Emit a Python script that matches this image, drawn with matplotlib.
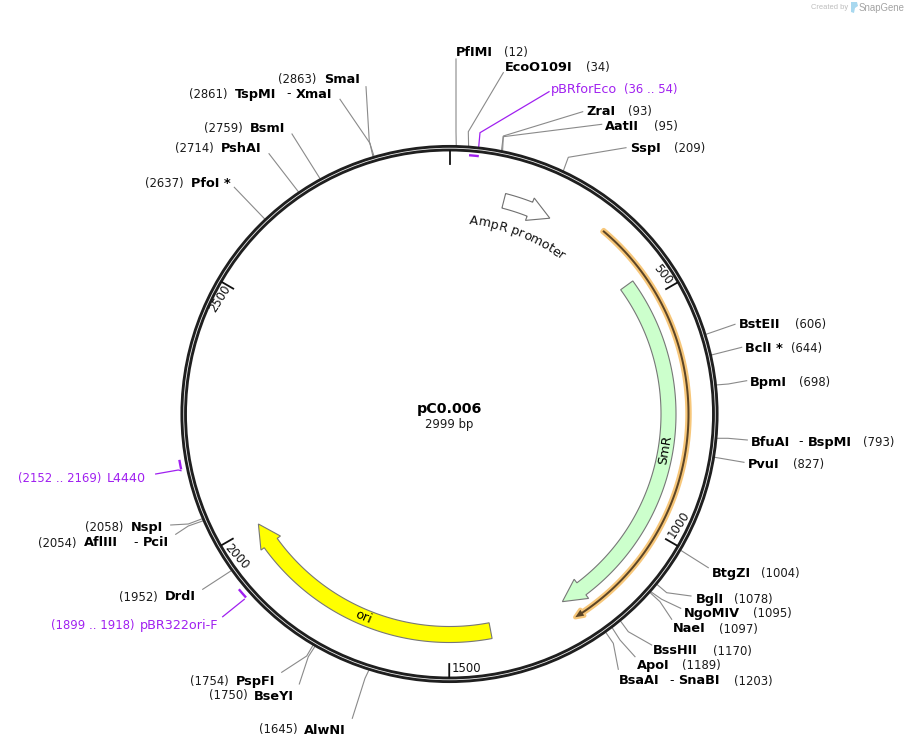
import numpy as np
import matplotlib as mpl
mpl.use('Agg')
import matplotlib.pyplot as plt
from matplotlib import font_manager
from matplotlib.patches import Circle, Polygon

mpl.rcParams['font.family'] = 'DejaVu Sans'

# plasmid
plasmid_name = 'pC0.006'
plasmid_len = 2999
ruler_ticks = [0, 500, 1000, 1500, 2000, 2500]

# restriction sites
site_names = ['PfIMI', 'EcoO109I', 'ZraI', 'AatII', 'SspI', 'BstEII', 'BclI *', 'BpmI',
              'BfuAI', 'PvuI', 'BtgZI', 'BglI', 'NgoMIV', 'NaeI', 'BssHII', 'ApoI',
              'BsaAI', 'AlwNI', 'BseYI', 'PspFI', 'DrdI', 'AflIII', 'NspI', 'PfoI *',
              'PshAI', 'BsmI', 'TspMI', 'SmaI']
site_bp = [12, 34, 93, 95, 209, 606, 644, 698,
           793, 827, 1004, 1078, 1095, 1097, 1170, 1189,
           1203, 1645, 1750, 1754, 1952, 2054, 2058, 2637,
           2714, 2759, 2861, 2863]
# second enzyme on the same label: (dash x, name, name x)
site_partner = {'BfuAI': (798, 'BspMI', 808), 'BsaAI': (669, 'SnaBI', 678),
                'AflIII': (133, 'PciI', 143), 'TspMI': (286, 'XmaI', 296)}

# features, start/end in bp, tip at the end
amp_start, amp_end = 119, 226
smr_start, smr_end = 450, 1241
ori_start, ori_end = 1410, 2000
orf_start, orf_end = 333, 1235

# primers
primer_names = ['pBRforEco', 'L4440', 'pBR322ori-F']
primer_starts = [36, 2152, 1899]
primer_ends = [54, 2169, 1918]

# layout, all in image pixels
cx, cy = 449.5, 414
ring_r = 265.8
name_xy = [(456, 52), (505, 67), (586, 111), (605, 126), (630, 148), (739, 324), (745, 348), (750, 382),
           (751, 442), (748, 464), (712, 573), (696, 599), (684, 614), (673, 629), (653, 651), (637, 666),
           (619, 681), (304, 730), (254, 696), (236, 681), (165, 597), (84, 543), (131, 528), (191, 183),
           (221, 148), (250, 128), (235, 94), (324, 79)]
pos_x = [504, 586, 628, 654, 674, 795, 791, 799,
         863, 793, 761, 734, 753, 719, 713, 682,
         734, 259, 209, 190, 119, 38, 85, 145,
         175, 204, 189, 278]
elbows = [(456, 131.7), (468.3, 131.7), (503.3, 136), (503.3, 136.7), (568.3, 157.3), None, None, (728.3, 384),
          (728, 438.3), None, None, (666.7, 592.7), (661.7, 599.3), (660, 601.7), (628.3, 631.7), (620, 640),
          (613.3, 643.3), (365, 678.3), (308.3, 656.7), (306.7, 656), None, (188.3, 526), (188.3, 524), None,
          None, None, (370, 143.3), (369.3, 141.7)]
leader_ends = [(456, 59), (503.3, 72.7), (582.7, 111.7), (601.7, 124.3), (626, 147.7), (735, 324.3), (741.7, 347.3), (746.7, 380.7),
               (747.3, 440), (744, 462.3), (708.3, 567.7), (691, 596), (680.7, 608.3), (671.7, 619.3), (651.7, 645), (635, 656.7),
               (618.3, 669.3), (352.3, 718.3), (299.3, 684), (281.7, 672.3), (202.7, 589.3), (175.7, 534.3), (170.7, 525), (234.3, 187.3),
               (269, 153.7), (292, 134), (340, 99.3), (366, 86.7)]

PURPLE = '#a020f0'
GREY = '#8a8a8a'
DARK = '#1f1f1f'


def bp_angle(bp):
    return 2 * np.pi * bp / plasmid_len


def polar(bp, r):
    t = bp_angle(bp)
    return cx + r * np.sin(t), cy - r * np.cos(t)


def arrow_shape(start, end, r, half, head_half, head_deg):
    # block arrow following the circle, tip at end
    neck = end - head_deg / 360 * plasmid_len
    arc = np.linspace(start, neck, 120)
    outer = [polar(b, r + half) for b in arc]
    inner = [polar(b, r - half) for b in arc[::-1]]
    head = [polar(neck, r + head_half), polar(end, r), polar(neck, r - head_half)]
    return outer + head + inner


def curved_text(ax, s, mid_bp, r, fontsize, **kw):
    # one glyph at a time along the circle, reading clockwise
    font = font_manager.get_font(font_manager.findfont('DejaVu Sans'))
    font.set_size(fontsize, 100)
    widths = [font.load_char(ord(c)).linearHoriAdvance / 65536 for c in s]
    left = -sum(widths) / 2
    for ch, w in zip(s, widths):
        off = left + w / 2
        left += w
        if ch == ' ':
            continue
        b = mid_bp + np.degrees(off / r) / 360 * plasmid_len
        x, y = polar(b, r)
        ax.text(x, y, ch, fontsize=fontsize, rotation=-np.degrees(bp_angle(b)),
                rotation_mode='anchor', ha='center', va='center', **kw)


fig = plt.figure(figsize=(9.08, 7.48), dpi=100)
ax = fig.add_axes([0, 0, 1, 1])
ax.set_xlim(0, 908)
ax.set_ylim(748, 0)
ax.axis('off')

# backbone
ax.add_patch(Circle((cx, cy), ring_r, fill=False, ec=DARK, lw=6.5 * 0.72, zorder=3))
ax.add_patch(Circle((cx, cy), ring_r, fill=False, ec='#f2f2f2', lw=0.8 * 0.72, zorder=4))

# ruler
for b in ruler_ticks:
    p0, p1 = polar(b, 263), polar(b, 250)
    ax.plot([p0[0], p1[0]], [p0[1], p1[1]], color='#111111', lw=1.3, zorder=5)
ruler_xy = [(663, 274.5), (678.5, 525), (466.5, 668), (237, 556.5), (220, 299)]
ruler_rot = [-52, 57, 0, -48, 58]
for b, xy, rot in zip(ruler_ticks[1:], ruler_xy, ruler_rot):
    ax.text(xy[0], xy[1], str(b), fontsize=8.4, rotation=rot, ha='center', va='center',
            rotation_mode='anchor', color='#111111')

# features
ax.add_patch(Polygon(arrow_shape(amp_start, amp_end, 220, 7.5, 12, 5.7), fc='white', ec='#707070', lw=0.8))
ax.add_patch(Polygon(arrow_shape(smr_start, smr_end, 219, 7.5, 12, 6), fc='#ccffcc', ec='#777777', lw=0.8))
ax.add_patch(Polygon(arrow_shape(ori_start, ori_end, 220.5, 8, 12, 5.9), fc='#ffff00', ec='#777777', lw=0.8))
# orf: pale halo with a thin dark arrow on top
orf_shape = arrow_shape(orf_start, orf_end, 239, 1, 3.5, 2)
ax.add_patch(Polygon(orf_shape, fc='#f7c77a', ec='#f7c77a', lw=3.2, joinstyle='round'))
ax.add_patch(Polygon(orf_shape, fc='#5c4526', ec='none'))
curved_text(ax, 'AmpR promoter', (amp_start + amp_end) / 2 + 2, 194, 9.2, color='#111111')
ax.text(665, 450, 'SmR', fontsize=9.2, rotation=80, ha='center', va='center', rotation_mode='anchor')
ax.text(363.5, 617, 'ori', fontsize=9.2, rotation=-23, ha='center', va='center', rotation_mode='anchor')

# restriction site labels
name_font = dict(fontsize=9.3, fontweight='bold', color='black', va='center')
pos_font = dict(fontsize=8.4, color='#1a1a1a', va='center')
for name, bp, nxy, px, elbow, end in zip(site_names, site_bp, name_xy, pos_x, elbows, leader_ends):
    pts = [polar(bp, 268.5)]
    if elbow is not None:
        pts.append(elbow)
    pts.append(end)
    ax.plot([p[0] for p in pts], [p[1] for p in pts], color=GREY, lw=0.8, zorder=2)
    ax.text(nxy[0], nxy[1], name, **name_font)
    ax.text(px, nxy[1], '(%d)' % bp, **pos_font)
    if name in site_partner:
        dash_x, other, other_x = site_partner[name]
        ax.text(dash_x, nxy[1], '-', fontsize=9, color='black', va='center')
        ax.text(other_x, nxy[1], other, **name_font)

# primers
primer_r = [259.5, 274, 274]
primer_leaders = [[(478.7, 147), (480, 132.7), (549, 91.7)],
                  [(181, 470.7), (178.3, 470), (155.7, 474)],
                  [(244.3, 599.3), (222.7, 616.7)]]
primer_name_xy = [(551, 89), (107, 478), (140, 626)]
primer_pos_x = [624, 18, 51]
for i, name in enumerate(primer_names):
    bps = np.linspace(primer_starts[i], primer_ends[i], 10)
    pts = [polar(b, primer_r[i]) for b in bps]
    ax.plot([p[0] for p in pts], [p[1] for p in pts], color=PURPLE, lw=1.7, zorder=5,
            solid_capstyle='butt')
    lead = primer_leaders[i]
    ax.plot([p[0] for p in lead], [p[1] for p in lead], color=PURPLE, lw=0.9, zorder=2)
    ax.text(primer_name_xy[i][0], primer_name_xy[i][1], name, fontsize=9.2, color=PURPLE, va='center')
    ax.text(primer_pos_x[i], primer_name_xy[i][1], '(%d .. %d)' % (primer_starts[i], primer_ends[i]),
            fontsize=8.4, color=PURPLE, va='center')

# centre title
ax.text(449.5, 409, plasmid_name, fontsize=10.3, fontweight='bold', ha='center', va='center')
ax.text(449.5, 424, '%d bp' % plasmid_len, fontsize=8.4, ha='center', va='center', color='#1a1a1a')

# watermark
ax.text(848, 7.5, 'Created by', fontsize=5.4, color='#bdbdbd', ha='right', va='center', family='Liberation Sans')
ax.add_patch(Polygon([(851, 2), (857, 2), (858, 6), (855, 8), (854, 13), (851, 12)], fc='#a8d8ef', ec='none'))
ax.text(859, 7.5, 'SnapGene', fontsize=6.9, color='#a3a3a3', ha='left', va='center', family='Liberation Sans')

fig.savefig('out.png', dpi=100)
